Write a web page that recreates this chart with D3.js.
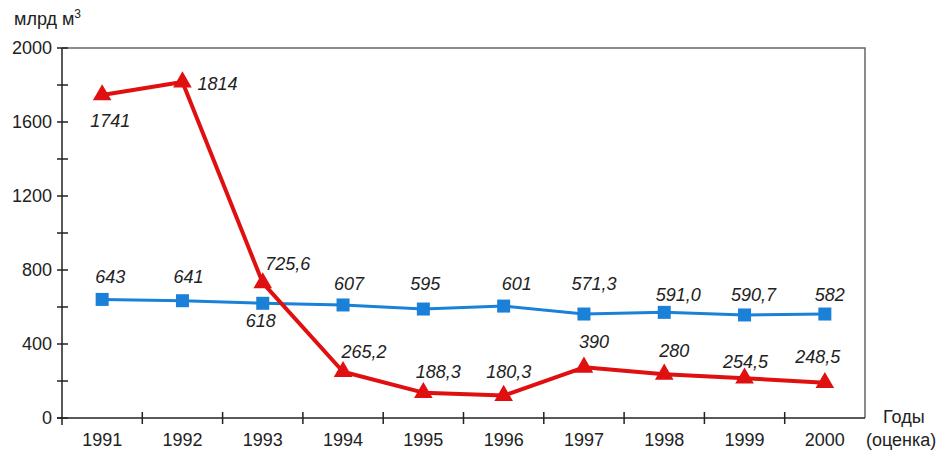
<!DOCTYPE html>
<html>
<head>
<meta charset="utf-8">
<script src="https://cdn.jsdelivr.net/npm/d3@7"></script>
<style>
  body { margin: 0; background: #fff; }
  svg { font-family: "Liberation Sans", Arial, sans-serif; }
</style>
</head>
<body>
<svg id="chart" width="942" height="450"></svg>
<script>
// --- DATA ---
const years = ['1991', '1992', '1993', '1994', '1995', '1996', '1997', '1998', '1999', '2000'];
// plotted positions (as drawn in the source) and printed labels
const blueValues = [641, 634, 620, 611, 589, 605, 562, 571, 557, 562];
const blueLabels = ['643', '641', '618', '607', '595', '601', '571,3', '591,0', '590,7', '582'];
const redValues = [1746, 1816, 730, 250, 137, 121, 274, 236, 215, 191];
const redLabels = ['1741', '1814', '725,6', '265,2', '188,3', '180,3', '390', '280', '254,5', '248,5'];
const yTicks = [0, 400, 800, 1200, 1600, 2000];
const yMinorTicks = [200, 600, 1000, 1400, 1800];

// label placement relative to each point [dx, dy]
const blueOffsets = [[8, -16], [6, -18], [-2, 24], [6, -15], [2, -19], [13, -16], [10, -24], [14, -11], [9, -14], [5, -13]];
const redOffsets = [[8, 32], [35, 8], [25, -13], [21, -14], [15, -15], [5, -18], [10, -19], [10, -17], [1, -10], [-7, -20]];

const svg = d3.select('#chart');
const plot = {left: 62, right: 865, top: 48, bottom: 418};
const fs = 18;

const x = d3.scaleBand().domain(years).range([plot.left, plot.right]);
const y = d3.scaleLinear().domain([0, 2000]).range([plot.bottom, plot.top]);

// frame (top and right)
svg.append('path')
    .attr('d', `M${plot.left},${plot.top}H${plot.right}V${plot.bottom}`)
    .attr('fill', 'none').attr('stroke', '#666').attr('stroke-width', 1.5);

// y axis
svg.append('line').attr('x1', plot.left).attr('x2', plot.left).attr('y1', plot.top).attr('y2', plot.bottom + 7)
    .attr('stroke', '#222').attr('stroke-width', 1.5);
svg.selectAll('.ytick')
    .data(yTicks.concat(yMinorTicks))
    .join('line')
    .attr('x1', plot.left - 5).attr('x2', plot.left + 6)
    .attr('y1', d => y(d)).attr('y2', d => y(d))
    .attr('stroke', '#222').attr('stroke-width', 1.5);
svg.selectAll('.ylabel')
    .data(yTicks)
    .join('text')
    .attr('x', plot.left - 10).attr('y', d => y(d) + 6)
    .attr('text-anchor', 'end')
    .attr('font-size', fs).attr('fill', '#222')
    .text(d => d);

// x axis
svg.append('line').attr('x1', plot.left - 5).attr('x2', plot.right).attr('y1', plot.bottom).attr('y2', plot.bottom)
    .attr('stroke', '#222').attr('stroke-width', 1.5);
svg.selectAll('.xtick')
    .data(years.slice(1))
    .join('line')
    .attr('x1', d => x(d)).attr('x2', d => x(d))
    .attr('y1', plot.bottom - 6).attr('y2', plot.bottom + 6)
    .attr('stroke', '#222').attr('stroke-width', 1.5);
svg.selectAll('.xlabel')
    .data(years)
    .join('text')
    .attr('x', d => x(d) + x.bandwidth() / 2).attr('y', 446)
    .attr('text-anchor', 'middle')
    .attr('font-size', fs).attr('fill', '#222')
    .text(d => d);

// unit and axis titles
const unit = svg.append('text').attr('x', 14).attr('y', 25).attr('font-size', fs).attr('fill', '#222');
unit.append('tspan').text('млрд м');
unit.append('tspan').attr('font-size', 12).attr('dy', -7).text('3');
svg.append('text').attr('x', 883).attr('y', 423).attr('font-size', fs).attr('fill', '#222').text('Годы');
svg.append('text').attr('x', 866).attr('y', 446).attr('font-size', fs).attr('fill', '#222').text('(оценка)');

const cx = (d, i) => x(years[i]) + x.bandwidth() / 2;

// blue series
const blue = '#1a80d8';
svg.append('path')
    .datum(blueValues)
    .attr('d', d3.line().x(cx).y(d => y(d)))
    .attr('fill', 'none').attr('stroke', blue).attr('stroke-width', 3);
svg.selectAll('.sq')
    .data(blueValues)
    .join('rect')
    .attr('x', (d, i) => cx(d, i) - 6.5).attr('y', d => y(d) - 6.5)
    .attr('width', 13).attr('height', 13)
    .attr('fill', blue);

// red series
const red = '#e01010';
svg.append('path')
    .datum(redValues)
    .attr('d', d3.line().x(cx).y(d => y(d)))
    .attr('fill', 'none').attr('stroke', red).attr('stroke-width', 4).attr('stroke-linejoin', 'round');
const tri = d3.symbol().type(d3.symbolTriangle).size(150);
svg.selectAll('.tri')
    .data(redValues)
    .join('path')
    .attr('d', tri)
    .attr('transform', (d, i) => `translate(${cx(d, i)},${y(d)})`)
    .attr('fill', red);

// value labels
svg.selectAll('.blabel')
    .data(blueLabels)
    .join('text')
    .attr('x', (d, i) => cx(d, i) + blueOffsets[i][0])
    .attr('y', (d, i) => y(blueValues[i]) + blueOffsets[i][1])
    .attr('text-anchor', 'middle').attr('font-style', 'italic')
    .attr('font-size', fs).attr('fill', '#222')
    .text(d => d);
svg.selectAll('.rlabel')
    .data(redLabels)
    .join('text')
    .attr('x', (d, i) => cx(d, i) + redOffsets[i][0])
    .attr('y', (d, i) => y(redValues[i]) + redOffsets[i][1])
    .attr('text-anchor', 'middle').attr('font-style', 'italic')
    .attr('font-size', fs).attr('fill', '#222')
    .text(d => d);
</script>
</body>
</html>
